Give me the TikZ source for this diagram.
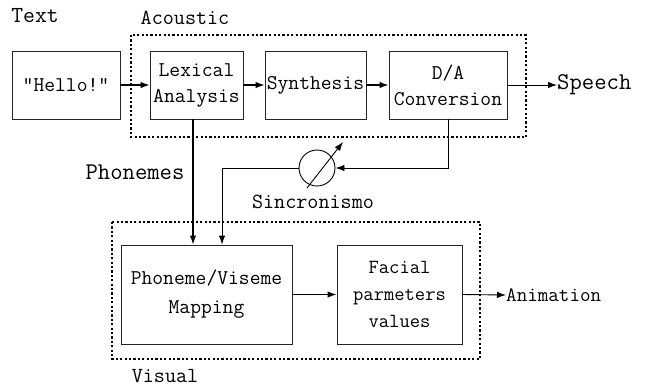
\documentclass[tikz,border=0pt]{standalone}
\usetikzlibrary{arrows.meta,calc}
\begin{document}
\begin{tikzpicture}[x=1pt,y=-1pt,
  blk/.style={draw=black!85,line width=0.9pt,rectangle,inner sep=0pt,align=center,
    font=\ttfamily\fontsize{21}{26}\selectfont},
  grp/.style={draw,line width=1.4pt,dash pattern=on 2.2pt off 2.2pt},
  lbl/.style={inner sep=0pt,font=\ttfamily\fontsize{21.5}{22}\selectfont},
  con/.style={line width=1.3pt,-{Latex[length=9pt,width=6.5pt]}},
  thin/.style={line width=0.9pt,-{Latex[length=9pt,width=6.5pt]}}]
\useasboundingbox (0,0) rectangle (664,389);
% group boxes
\draw[grp] (131,35) rectangle (526,137);
\draw[grp] (112,222) rectangle (480,359);
% labels
\node[lbl,font=\ttfamily\fontsize{23}{23}\selectfont] (ltext) at (35,16) {Text};
\node[lbl] (lacoustic) at (185,18) {Acoustic};
\node[lbl] (lvisual) at (165,376) {Visual};
% blocks
\node[blk,minimum width=108pt,minimum height=68pt] (hello) at (66,85) {"Hello!"};
\node[blk,minimum width=93pt,minimum height=68pt] (lex) at (196.5,85) {Lexical\\Analysis};
\node[blk,minimum width=101pt,minimum height=68pt] (syn) at (315.5,85) {Synthesis};
\node[blk,minimum width=118pt,minimum height=68pt] (da) at (448,85) {D/A\\Conversion};
\node[lbl,font=\ttfamily\fontsize{24}{24}\selectfont,anchor=west] (speech) at (557,85) {Speech};
\node[blk,minimum width=171pt,minimum height=99pt,font=\ttfamily\fontsize{21}{29}\selectfont] (pv) at (206.5,294.5) {Phoneme/Viseme\\Mapping};
\node[blk,minimum width=125pt,minimum height=99pt,font=\ttfamily\fontsize{20}{27}\selectfont] (fac) at (399.5,294.5) {Facial\\parmeters\\values};
\node[lbl,font=\ttfamily\fontsize{20.5}{20.5}\selectfont,anchor=west] (anim) at (506,295) {Animation};
\node[lbl,font=\ttfamily\fontsize{24}{24}\selectfont] (phon) at (135,172) {Phonemes};
\node[lbl] (sinc) at (313,202) {Sincronismo};
% sync circle
\node[draw,line width=0.9pt,circle,minimum size=36pt,inner sep=0pt] (sync) at (317,168) {};
\coordinate (dgA) at (307,188);
\coordinate (dgB) at (343,142);
\coordinate (jL) at (222,168);
% connectors
\draw[con] (hello.east) -- (lex.west);
\draw[con] (lex.east) -- (syn.west);
\draw[con] (syn.east) -- (da.west);
\draw[thin] (da.east) -- (speech.west);
\draw[con] ([xshift=-3.5pt]lex.south) -- ([xshift=-3.5pt]lex.south |- pv.north);
\draw[thin] (da.south) |- (sync.east);
\draw[thin] (sync.west) -- (jL) -- (jL |- pv.north);
\draw[thin] (dgA) -- (dgB);
\draw[con] (pv.east) -- (fac.west);
\draw[thin] (fac.east) -- (anim.west);
\end{tikzpicture}
\end{document}
